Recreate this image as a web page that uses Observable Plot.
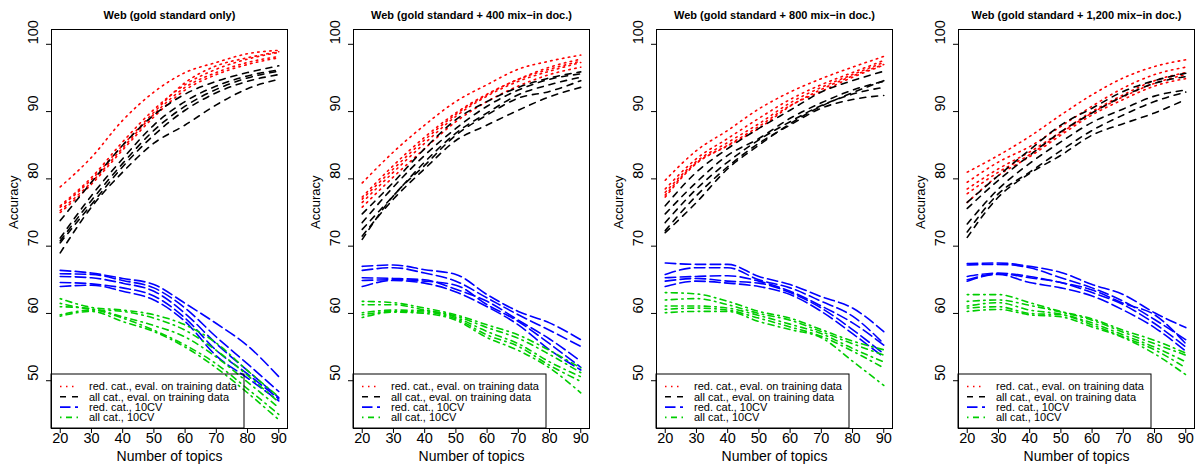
<!DOCTYPE html>
<html><head><meta charset="utf-8">
<script src="https://cdn.jsdelivr.net/npm/d3@7"></script>
<script src="https://cdn.jsdelivr.net/npm/@observablehq/plot@0.6"></script>
<style>
body{margin:0;background:#fff;}
#row{display:flex;width:1200px;height:468px;overflow:hidden;}
#row svg{display:block;flex:none;}
</style></head><body><div id="row"></div>
<script>
const topics = [20, 30, 40, 50, 60, 70, 80, 90];
const xTicks = [20, 30, 40, 50, 60, 70, 80, 90];
const yTicks = [50, 60, 70, 80, 90, 100];
const panelTitles = [
  "Web (gold standard only)",
  "Web (gold standard + 400 mix\u2212in doc.)",
  "Web (gold standard + 800 mix\u2212in doc.)",
  "Web (gold standard + 1,200 mix\u2212in doc.)"
];
const seriesLabels = ["red. cat., eval. on training data", "all cat., eval. on training data", "red. cat., 10CV", "all cat., 10CV"];
const seriesColors = ["#FF0000", "#000000", "#0000FF", "#00CD00"];
const seriesDashes = ["1.5,4.5", "6,6", "10.5,4.5", "1.5,4.5,6,4.5"];

// Panel 1: gold standard only (5 runs per series, values at topics 20..90)
const p1Red = [
  [78.8, 83.2, 88.7, 92.9, 95.8, 97.3, 98.6, 99.1],
  [76.0, 80.2, 85.5, 90.3, 94.0, 96.3, 97.8, 98.8],
  [75.3, 79.5, 84.6, 89.6, 93.6, 95.8, 97.3, 98.2],
  [75.8, 79.9, 85.0, 89.9, 94.3, 96.8, 98.0, 98.9],
  [75.0, 79.2, 84.3, 89.2, 93.2, 95.5, 97.0, 98.0]
];
const p1Black = [
  [73.8, 79.5, 85.0, 89.5, 92.6, 94.5, 95.8, 96.8],
  [71.2, 77.5, 83.0, 88.0, 91.5, 93.8, 95.3, 96.2],
  [70.8, 76.8, 82.3, 87.2, 90.8, 93.3, 95.0, 96.0],
  [69.0, 75.8, 81.0, 85.3, 88.0, 91.0, 93.4, 94.8],
  [70.5, 76.2, 81.8, 86.5, 90.2, 92.8, 94.5, 95.5]
];
const p1Blue = [
  [66.4, 66.0, 65.2, 64.3, 61.5, 58.5, 55.2, 50.6],
  [65.9, 65.8, 64.9, 63.8, 60.8, 56.5, 52.5, 48.4],
  [65.5, 65.3, 64.5, 63.3, 60.0, 55.5, 51.5, 47.5],
  [64.6, 64.4, 63.8, 62.6, 59.3, 54.5, 51.0, 47.3],
  [64.0, 64.2, 63.3, 62.0, 58.8, 53.7, 50.4, 47.0]
];
const p1Green = [
  [62.2, 60.9, 60.5, 59.8, 58.3, 55.6, 51.5, 47.6],
  [61.5, 60.6, 60.3, 59.3, 57.5, 54.5, 50.8, 46.8],
  [61.0, 60.7, 59.5, 58.2, 56.5, 53.5, 49.8, 46.0],
  [59.8, 60.5, 59.3, 57.5, 55.3, 52.5, 48.8, 45.0],
  [59.6, 60.3, 58.8, 57.3, 55.0, 51.9, 48.2, 44.2]
];

// Panel 2: + 400 mix-in documents
const p2Red = [
  [79.4, 84.0, 88.0, 91.5, 94.0, 96.3, 97.5, 98.4],
  [77.3, 82.0, 86.2, 89.8, 92.6, 94.8, 96.6, 97.8],
  [76.5, 81.0, 85.3, 89.3, 92.3, 94.5, 96.0, 97.3],
  [75.8, 80.3, 84.5, 88.5, 91.5, 93.8, 95.5, 96.6],
  [77.0, 81.5, 85.8, 89.6, 92.5, 94.8, 96.3, 97.5]
];
const p2Black = [
  [74.8, 79.5, 84.5, 88.8, 91.5, 93.6, 95.0, 95.9],
  [73.5, 78.8, 83.5, 87.5, 90.8, 93.2, 94.8, 95.6],
  [72.5, 77.5, 82.5, 86.8, 89.8, 92.5, 94.0, 95.1],
  [71.0, 77.5, 82.0, 86.5, 89.5, 92.0, 93.0, 94.6],
  [71.5, 77.0, 81.5, 85.7, 88.0, 90.2, 92.2, 93.6]
];
const p2Blue = [
  [67.0, 67.2, 66.5, 65.8, 62.8, 60.3, 58.6, 56.1],
  [66.4, 66.8, 66.0, 64.8, 62.3, 59.8, 57.5, 55.1],
  [65.3, 65.2, 65.0, 63.6, 61.8, 59.0, 56.2, 52.9],
  [64.9, 65.0, 64.8, 64.2, 61.3, 58.8, 55.5, 52.0],
  [64.0, 64.9, 64.5, 63.2, 61.0, 58.3, 54.6, 51.6]
];
const p2Green = [
  [61.8, 61.6, 60.8, 59.8, 58.3, 56.8, 54.5, 51.9],
  [61.3, 61.3, 60.5, 59.6, 57.9, 56.3, 53.9, 51.2],
  [60.1, 60.5, 60.4, 59.4, 57.3, 55.5, 52.8, 50.6],
  [59.8, 60.3, 60.2, 59.2, 56.8, 55.1, 52.3, 49.9],
  [59.4, 60.2, 60.0, 59.0, 56.4, 54.5, 51.9, 48.2]
];

// Panel 3: + 800 mix-in documents
const p3Red = [
  [79.8, 84.2, 87.2, 90.4, 92.9, 94.9, 96.6, 98.2],
  [78.5, 83.0, 86.0, 89.0, 91.8, 94.0, 95.8, 97.6],
  [77.3, 82.3, 84.9, 87.5, 90.8, 93.3, 95.3, 97.0],
  [78.0, 82.6, 85.4, 88.2, 91.3, 93.6, 95.5, 97.3],
  [77.6, 82.4, 85.0, 87.8, 90.9, 93.0, 95.1, 96.9]
];
const p3Black = [
  [76.0, 81.0, 84.5, 87.5, 90.2, 92.9, 94.6, 96.0],
  [74.8, 79.5, 83.5, 86.0, 89.0, 91.3, 93.2, 94.5],
  [73.5, 78.5, 82.5, 85.8, 88.5, 90.9, 92.6, 93.6],
  [72.3, 77.5, 81.8, 85.3, 88.0, 90.5, 91.8, 92.4],
  [72.0, 76.5, 81.5, 85.0, 88.2, 90.8, 92.8, 94.6]
];
const p3Blue = [
  [67.5, 67.3, 67.3, 65.5, 64.3, 62.5, 60.8, 57.3],
  [65.8, 66.8, 66.8, 65.0, 63.8, 61.8, 59.6, 55.5],
  [65.3, 65.5, 65.6, 64.8, 63.3, 61.1, 58.6, 55.3],
  [64.8, 65.2, 64.8, 64.5, 63.1, 60.8, 57.6, 54.0],
  [64.0, 64.8, 64.5, 64.0, 62.8, 60.3, 57.0, 53.5]
];
const p3Green = [
  [63.1, 62.9, 61.8, 60.3, 59.3, 57.6, 55.9, 54.6],
  [62.0, 62.2, 61.3, 60.0, 59.0, 57.3, 55.5, 53.8],
  [61.1, 61.1, 60.8, 59.7, 58.4, 57.0, 54.8, 52.8],
  [60.6, 60.8, 60.5, 59.3, 58.0, 56.6, 54.4, 51.9],
  [60.1, 60.3, 60.3, 58.8, 57.6, 56.4, 52.9, 49.3]
];

// Panel 4: + 1,200 mix-in documents
const p4Red = [
  [81.0, 83.5, 86.3, 89.5, 92.5, 95.0, 96.7, 97.7],
  [79.5, 82.5, 84.8, 87.8, 90.8, 93.5, 95.5, 96.6],
  [78.5, 81.5, 84.0, 87.0, 90.0, 92.5, 94.6, 95.8],
  [76.5, 80.5, 83.3, 86.5, 89.5, 91.8, 93.8, 94.9],
  [77.8, 81.0, 83.6, 86.8, 89.8, 92.2, 94.2, 95.5]
];
const p4Black = [
  [76.5, 80.5, 84.3, 88.0, 90.5, 93.0, 94.6, 95.7],
  [75.6, 79.8, 83.5, 87.0, 89.8, 92.3, 94.2, 95.2],
  [73.3, 78.5, 82.3, 85.5, 88.4, 90.4, 92.3, 93.2],
  [72.1, 77.8, 81.0, 84.2, 87.2, 89.5, 91.5, 92.9],
  [71.3, 77.3, 80.8, 83.5, 86.5, 88.2, 89.8, 91.8]
];
const p4Blue = [
  [67.4, 67.5, 67.0, 66.1, 64.3, 62.8, 60.1, 57.9],
  [67.2, 67.3, 66.8, 65.3, 63.8, 61.8, 59.1, 56.1],
  [65.5, 66.0, 65.5, 64.6, 63.5, 61.5, 59.8, 55.5],
  [65.0, 65.9, 65.3, 64.6, 63.1, 61.3, 58.5, 55.0],
  [64.8, 65.8, 64.6, 63.8, 62.6, 60.5, 57.9, 54.4]
];
const p4Green = [
  [62.8, 62.8, 61.6, 60.3, 59.2, 57.5, 56.0, 54.1],
  [61.8, 62.0, 61.2, 60.2, 59.0, 57.2, 55.5, 53.8],
  [61.1, 61.6, 60.5, 59.9, 58.6, 56.8, 55.0, 52.8],
  [60.8, 61.0, 60.0, 59.8, 58.3, 56.5, 54.6, 51.9],
  [60.3, 60.6, 59.8, 59.5, 58.0, 56.4, 54.0, 50.9]
];

const panelSeries = [
  [p1Red, p1Black, p1Blue, p1Green],
  [p2Red, p2Black, p2Blue, p2Green],
  [p3Red, p3Black, p3Blue, p3Green],
  [p4Red, p4Black, p4Blue, p4Green]
];

const panelLeft = [51, 53, 56, 58];
const plotW = 236;
const FONT = "'Liberation Sans', Arial, Helvetica, sans-serif";
const row = document.getElementById("row");

panelSeries.forEach((series, p) => {
  const ml = panelLeft[p];
  const marks = [];
  series.forEach((runs, s) => {
    const data = [];
    runs.forEach((vals, r) => vals.forEach((v, i) => data.push({run: r, topic: topics[i], acc: v})));
    marks.push(Plot.line(data, {
      x: "topic", y: "acc", z: "run",
      stroke: seriesColors[s], strokeDasharray: seriesDashes[s],
      strokeWidth: 1.6, curve: "monotone-x"
    }));
  });
  marks.push(Plot.frame({stroke: "#000", strokeWidth: 1}));
  marks.push(Plot.axisX({ticks: xTicks, tickSize: 5, tickFormat: () => "", label: null, stroke: "#000"}));
  marks.push(Plot.axisY({ticks: yTicks, tickSize: 5, tickFormat: () => "", label: null, stroke: "#000"}));
  marks.push(Plot.text(xTicks, {x: d => d, frameAnchor: "bottom", dy: 14, text: d => String(d), fontSize: 14.5, fill: "#000"}));
  marks.push(Plot.text(yTicks, {y: d => d, frameAnchor: "left", dx: -18, rotate: -90, text: d => String(d), fontSize: 14.5, fill: "#000"}));
  marks.push(Plot.text(["Number of topics"], {frameAnchor: "bottom", dy: 32, text: d => d, fontSize: 14, fill: "#000"}));
  marks.push(Plot.text(["Accuracy"], {frameAnchor: "left", dx: -38, rotate: -90, text: d => d, fontSize: 13, fill: "#000"}));
  marks.push(Plot.text([panelTitles[p]], {frameAnchor: "top", dy: -18, text: d => d, fontSize: 11, fontWeight: "bold", fill: "#000"}));

  const plot = Plot.plot({
    width: 300, height: 468,
    marginLeft: ml, marginRight: 300 - ml - plotW, marginTop: 29, marginBottom: 40,
    x: {domain: [17.2, 92.8]},
    y: {domain: [42.9, 102.2]},
    style: {fontFamily: FONT, background: "#fff", overflow: "visible"},
    marks
  });

  // legend (bottom-left box, as in the original)
  const svg = d3.select(plot);
  const g = svg.append("g").attr("font-family", FONT).attr("font-size", 11).attr("text-anchor", "start");
  const boxTop = 374, boxBottom = 428, boxW = 193;
  g.append("rect").attr("x", ml).attr("y", boxTop).attr("width", boxW).attr("height", boxBottom - boxTop)
    .attr("fill", "none").attr("stroke", "#000").attr("stroke-width", 1);
  seriesLabels.forEach((lab, i) => {
    const yy = 386.5 + i * 10.3;
    g.append("line").attr("x1", ml + 9).attr("x2", ml + 27).attr("y1", yy).attr("y2", yy)
      .attr("stroke", seriesColors[i]).attr("stroke-width", 1.6).attr("stroke-dasharray", seriesDashes[i]);
    g.append("text").attr("x", ml + 38).attr("y", yy).attr("dy", "0.35em").attr("text-anchor", "start")
      .attr("fill", "#000").text(lab);
  });

  row.appendChild(plot);
});
</script>
</body></html>
